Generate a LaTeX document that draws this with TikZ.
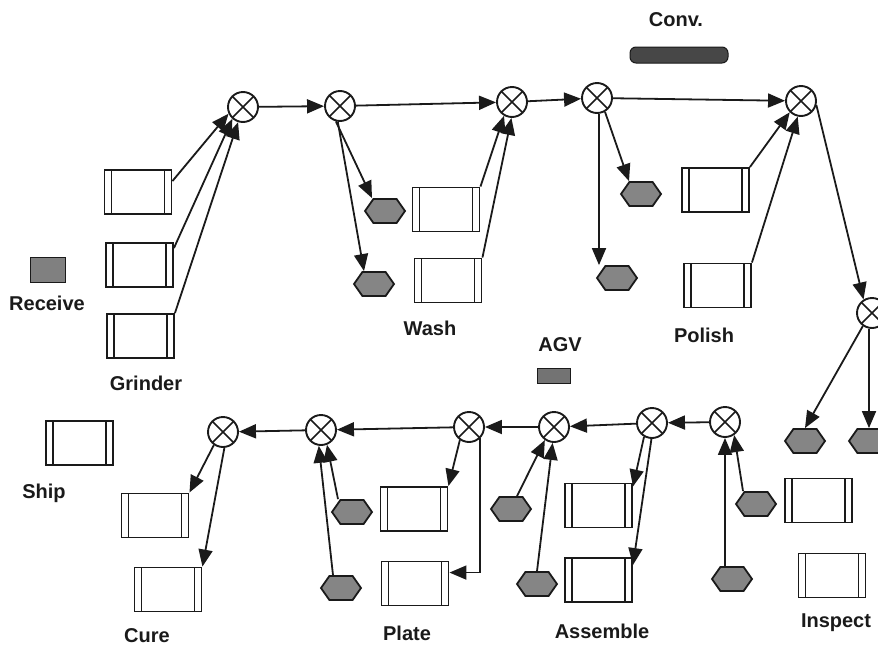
\documentclass[tikz,border=0pt]{standalone}
\usepackage{fontspec}
\setmainfont{Liberation Sans}
\usetikzlibrary{arrows.meta,shapes.symbols,calc}
\definecolor{ink}{HTML}{1A1A1A}
\tikzset{
  junction/.style={circle,draw=ink,line width=1.9pt,minimum size=30pt,inner sep=0pt,fill=white,
    path picture={\draw[ink,line width=1.7pt] (path picture bounding box.north west) -- (path picture bounding box.south east)
      (path picture bounding box.north east) -- (path picture bounding box.south west);}},
  machine/.style={draw=ink,line width=1.9pt,minimum width=67pt,minimum height=44pt,inner sep=0pt,
    path picture={\draw[ink,line width=1.6pt] ([xshift=7pt]path picture bounding box.north west) -- ([xshift=7pt]path picture bounding box.south west)
      ([xshift=-7pt]path picture bounding box.north east) -- ([xshift=-7pt]path picture bounding box.south east);}},
  buffer/.style={signal,signal to=east and west,signal pointer angle=110,draw=ink,line width=1.8pt,
    fill=black!48,minimum width=40pt,minimum height=24pt,inner sep=0pt},
  lbl/.style={text=ink,font=\bfseries\fontsize{20}{24}\selectfont,inner sep=0pt},
  flow/.style={draw=ink,line width=1.8pt,-{Triangle[length=17pt,width=14pt]}}
}
\begin{document}
\begin{tikzpicture}[x=1pt,y=-1pt]
\useasboundingbox (0,0) rectangle (878,651);
\clip (0,0) rectangle (878,651);
% junctions
\node[junction] (J1) at (243,107) {};
\node[junction] (J2) at (340,106) {};
\node[junction] (J3) at (512,102) {};
\node[junction] (J4) at (597,98) {};
\node[junction] (J5) at (801,101) {};
\node[junction] (J6) at (872,313) {};
\node[junction] (B1) at (223,432) {};
\node[junction] (B2) at (321,430) {};
\node[junction] (B3) at (469,427) {};
\node[junction] (B4) at (554,427) {};
\node[junction] (B5) at (652,423) {};
\node[junction] (B6) at (725,422) {};
% machines
\node[machine] (G1) at (138,192) {};
\node[machine] (G2) at (139.5,265) {};
\node[machine] (G3) at (140.5,336) {};
\node[machine] (W1) at (446,209.5) {};
\node[machine] (W2) at (448,280.5) {};
\node[machine] (P1) at (715.5,190) {};
\node[machine] (P2) at (717.5,285.5) {};
\node[machine] (S1) at (79.5,443) {};
\node[machine] (C1) at (155,515.5) {};
\node[machine] (C2) at (168,589.5) {};
\node[machine] (L1) at (414,509) {};
\node[machine] (L2) at (415,583.5) {};
\node[machine] (A1) at (598.5,505.5) {};
\node[machine] (A2) at (598.5,580) {};
\node[machine] (I1) at (818.5,500.5) {};
\node[machine] (I2) at (832,575.5) {};
% buffers
\node[buffer] (H1) at (385,211) {};
\node[buffer] (H2) at (374,284) {};
\node[buffer] (H3) at (641,194) {};
\node[buffer] (H4) at (617,278) {};
\node[buffer] (H5) at (805,441) {};
\node[buffer] (H6) at (869,441) {};
\node[buffer] (H7) at (756,504) {};
\node[buffer] (H8) at (732,579) {};
\node[buffer] (H9) at (511,509) {};
\node[buffer] (H10) at (537,584) {};
\node[buffer] (H11) at (352,512) {};
\node[buffer] (H12) at (341,588) {};
% legend items
\node[draw=ink,line width=1pt,fill=black!50,minimum width=35pt,minimum height=25pt,inner sep=0pt] (recv) at (47.5,269.5) {};
\node[draw=ink,line width=1pt,fill=black!55,minimum width=33pt,minimum height=15pt,inner sep=0pt] (agv) at (553.5,375.5) {};
\node[draw=ink,line width=1pt,fill=black!72,rounded corners=6pt,minimum width=98pt,minimum height=16pt,inner sep=0pt] (conv) at (679,55) {};
% labels
\node[lbl] (tRecv) at (47,303) {Receive};
\node[lbl] (tGrind) at (146,383) {Grinder};
\node[lbl] (tWash) at (430,328) {Wash};
\node[lbl] (tAgv) at (560,345) {AGV};
\node[lbl] (tConv) at (676,20) {Conv.};
\node[lbl] (tPol) at (704,335) {Polish};
\node[lbl] (tShip) at (44,493) {Ship};
\node[lbl] (tCure) at (147,636) {Cure};
\node[lbl] (tPlate) at (407,633) {Plate};
\node[lbl] (tAsm) at (602,631) {Assemble};
\node[lbl] (tInsp) at (836,623) {Inspect};
% top line
\draw[flow] (J1) -- (J2);
\draw[flow] (J2) -- (J3);
\draw[flow] (J3) -- (J4);
\draw[flow] (J4) -- (J5);
\draw[flow] (J5.345) -- (J6.122);
\draw[flow] ([yshift=-12pt]G1.north east) -- (J1.205);
\draw[flow] ([yshift=-6pt]G2.north east) -- (J1.228);
\draw[flow] (G3.north east) -- (J1.252);
\draw[flow] (J2.255) -- ([xshift=-13pt]H1.north);
\draw[flow] (J2.262) -- ([xshift=-10pt]H2.north);
\draw[flow] (W1.north east) -- (J3.240);
\draw[flow] (W2.north east) -- (J3.268);
\draw[flow] (J4.300) -- ([xshift=-12pt]H3.north);
\draw[flow] ([xshift=2pt]J4.south) -- ([xshift=2pt]J4.south |- H4.north);
\draw[flow] (P1.north east) -- (J5.225);
\draw[flow] (P2.north east) -- (J5.258);
\draw[flow] (J6.235) -- (H5.north);
\draw[flow] ([xshift=-3pt]J6.south) -- ([xshift=-3pt]J6.south |- H6.north);
% bottom line
\draw[flow] (B6) -- (B5);
\draw[flow] (B5) -- (B4);
\draw[flow] (B4) -- (B3);
\draw[flow] (B3) -- (B2);
\draw[flow] (B2) -- (B1);
\draw[flow] ([xshift=-13pt]H7.north) -- (B6.305);
\draw[flow] (B6.south |- H8.north) -- (B6.south);
\draw[flow] (B5.240) -- ([yshift=-4pt]A1.north east);
\draw[flow] (B5.268) -- ([yshift=-8pt]A2.north east);
\draw[flow] ([xshift=6pt]H9.north) -- (B4.235);
\draw[flow] (H10.north) -- (B4.265);
\draw[flow] (B3.235) -- (L1.north east);
\draw[flow] (B3.-45) |- ([yshift=-12pt]L2.north east);
\draw[flow] ([xshift=-14pt]H11.north) -- (B2.292);
\draw[flow] ([xshift=-8pt]H12.north) -- (B2.262);
\draw[flow] (B1.235) -- (C1.north east);
\draw[flow] (B1.275) -- (C2.north east);
\end{tikzpicture}
\end{document}
